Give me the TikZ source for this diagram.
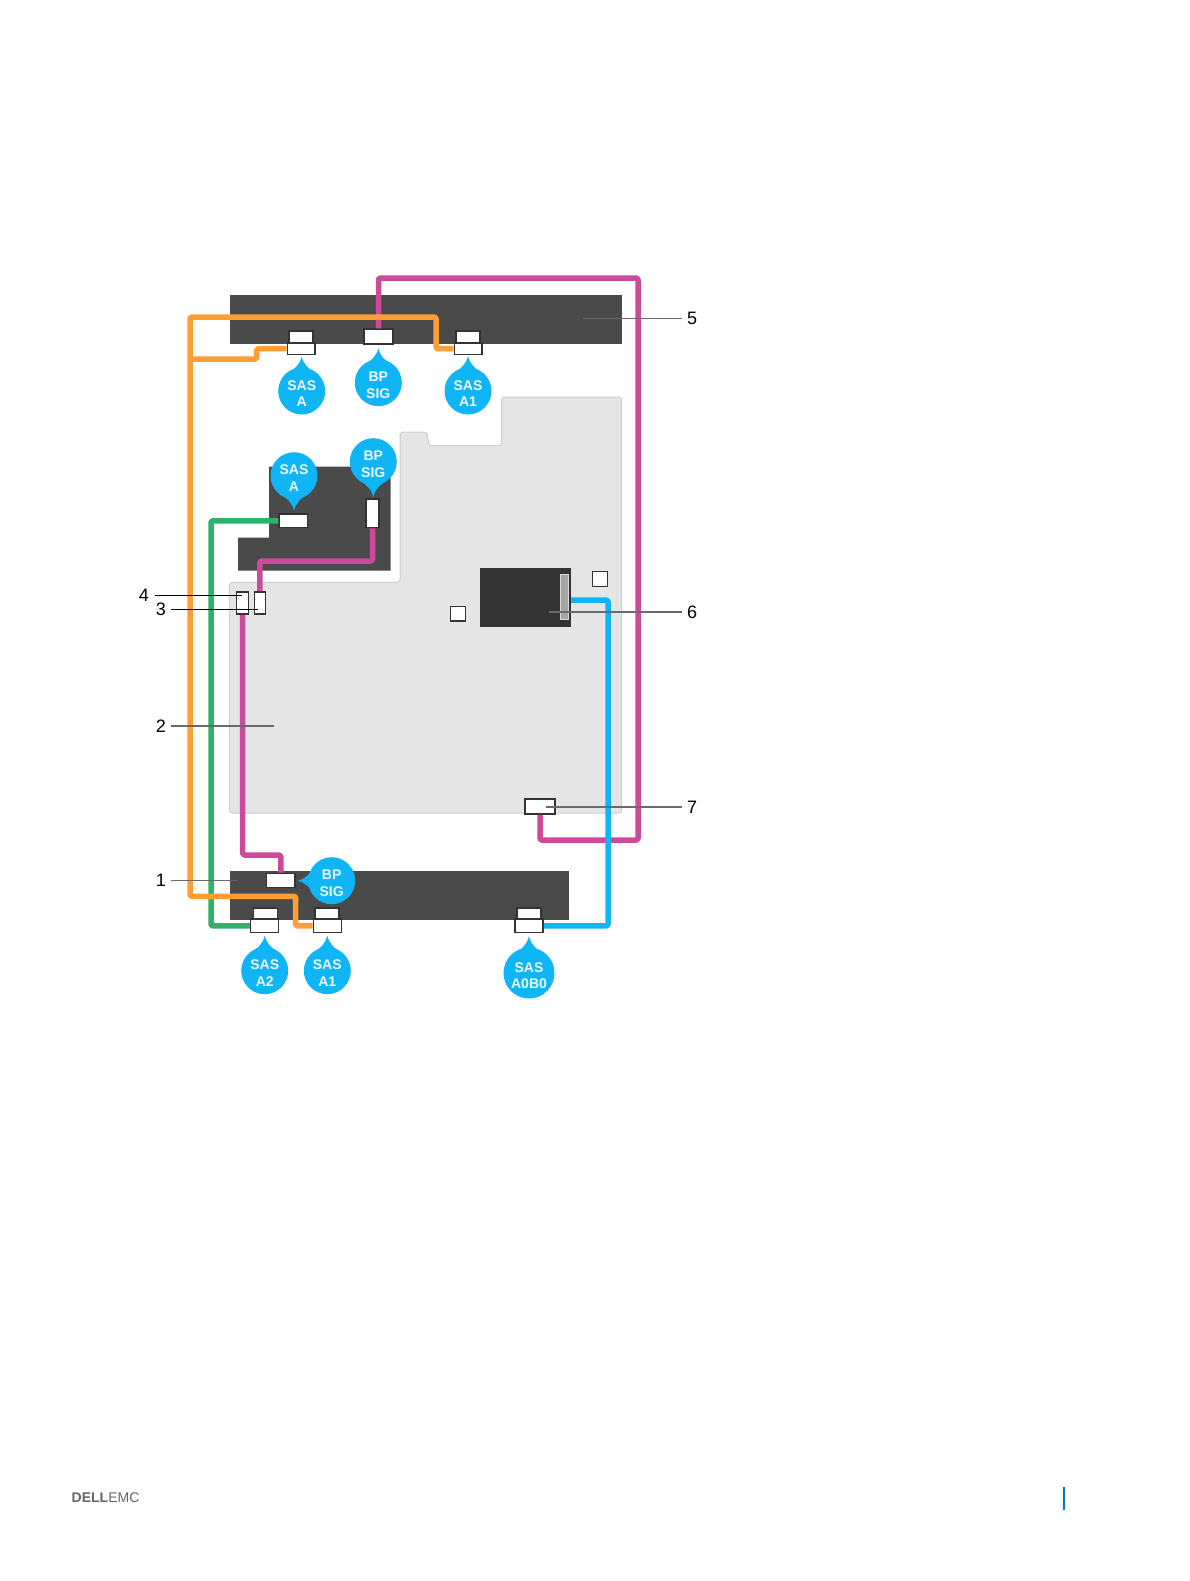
\documentclass[tikz,border=0pt]{standalone}
\usepackage{fontspec}
\setmainfont{Liberation Sans}
\definecolor{barc}{HTML}{4A4A4A}
\definecolor{plate}{HTML}{E5E5E5}
\definecolor{plateb}{HTML}{CFCFCF}
\definecolor{orangec}{HTML}{FF9E35}
\definecolor{pinkc}{HTML}{CB4A9A}
\definecolor{greenc}{HTML}{2DB36A}
\definecolor{bluec}{HTML}{10B5F5}
\definecolor{connb}{HTML}{333333}
\definecolor{leaderc}{HTML}{6A6A6A}
\definecolor{footbar}{HTML}{0076CE}
\tikzset{
  bar/.style={fill=barc,draw=none,anchor=north west,inner sep=0pt},
  conn/.style={draw=connb,fill=white,line width=1.5pt,inner sep=0pt},
  cable/.style={line width=5.5pt,rounded corners=1.5pt,line join=round},
  bubdisc/.style={circle,fill=bluec,inner sep=0pt},
  bubtext/.style={inner sep=0pt,align=center,text=white!92!bluec,font=\fontsize{14}{16.5}\selectfont\bfseries},
  leader/.style={draw=leaderc,line width=1.3pt},
  numlab/.style={font=\fontsize{18}{18}\selectfont,inner sep=0pt,inner xsep=5pt,text=black}
}
% [diameter] name, x, y, rotation of the tip, tip distance, text
\newcommand{\bubb}[7][47pt]{%
  \fill[bluec,shift={(#3,#4)},rotate=#5] (#6,0) .. controls (#6-8,2) and (#6-12,6) .. (16,17) -- (16,-17) .. controls (#6-12,-6) and (#6-8,-2) .. (#6,0) -- cycle;
  \node[bubdisc,minimum size=#1] (#2) at (#3,#4) {};
  \node[bubtext,yshift=-2.5pt] (#2t) at (#2) {#7};}
\begin{document}
\begin{tikzpicture}[x=1pt,y=-1pt]
\useasboundingbox[fill=white] (0,0) rectangle (1189,1581);
% bars
\node[bar,minimum width=392pt,minimum height=49pt] (bartop) at (229.3,294.3) {};
\node[bar,minimum width=339pt,minimum height=49pt] (barbot) at (229.3,870.5) {};
% board
\draw[fill=plate,draw=plateb,line width=1pt,rounded corners=3pt]
  (229.3,582.3) -- (400,582.3) -- (400,432) -- (427,432) -- (429,445.7) -- (501.7,445.7) -- (501.7,397) -- (621.7,397) -- (621.7,813) -- (229.3,813) -- cycle;
% riser pad
\fill[barc] (269,466.7) -- (390.7,466.7) -- (390.7,570.7) -- (238,570.7) -- (238,537.7) -- (269,537.7) -- cycle;
% card
\node[fill=black!80,minimum width=91pt,minimum height=59pt,inner sep=0pt] (card) at (525.5,597.2) {};
\node[fill=black!35,draw=black!15,line width=.6pt,minimum width=8.5pt,minimum height=45pt,inner sep=0pt] (slot) at (564.3,596.5) {};
\node[conn,minimum width=15pt,minimum height=15pt] (sqr) at (600.2,579.2) {};
\node[conn,minimum width=15pt,minimum height=14.5pt] (sql) at (458,613.9) {};
% connectors: upper and lower parts
\node[conn,minimum width=24pt,minimum height=12pt] (saUp) at (301,337) {};
\node[conn,minimum width=27.5pt,minimum height=11.5pt] (saLow) at (301.2,348.7) {};
\node[conn,minimum width=24pt,minimum height=12pt] (a1Up) at (468,337) {};
\node[conn,minimum width=27.5pt,minimum height=11.5pt] (a1Low) at (468,348.7) {};
\node[conn,minimum width=29pt,minimum height=15pt] (bpTop) at (378.5,336.5) {};
\node[conn,minimum width=28.5pt,minimum height=13.7pt] (saPad) at (293.4,520.8) {};
\node[conn,minimum width=13pt,minimum height=28.7pt] (bpPad) at (372.5,513.3) {};
\node[conn,minimum width=11pt,minimum height=22.3pt] (ctlb) at (259.8,603) {};
\node[conn,minimum width=12pt,minimum height=22.3pt] (ctla) at (242.7,603) {};
\node[conn,minimum width=30pt,minimum height=15pt] (ctlc) at (540,806.5) {};
\node[conn,minimum width=28.3pt,minimum height=14.4pt] (bpBot) at (280.8,880.5) {};
\node[conn,minimum width=24pt,minimum height=11pt] (a2Up) at (265.3,913.7) {};
\node[conn,minimum width=28pt,minimum height=13.5pt] (a2Low) at (264.7,925.9) {};
\node[conn,minimum width=24pt,minimum height=11pt] (b1Up) at (327.2,913.7) {};
\node[conn,minimum width=28pt,minimum height=13.5pt] (b1Low) at (327.3,925.9) {};
\node[conn,minimum width=24pt,minimum height=11pt] (abUp) at (529,913.7) {};
\node[conn,minimum width=28pt,minimum height=13.5pt] (abLow) at (529,925.9) {};
% bend points
\coordinate (pA) at (638,278);
\coordinate (pB) at (638,840);
\coordinate (pC) at (259.8,561);
\coordinate (pD) at (280.8,855);
\coordinate (gA) at (211,520.8);
\coordinate (gB) at (211,925.9);
\coordinate (bA) at (608,600);
\coordinate (oA) at (436,317);
\coordinate (oB) at (190,317);
\coordinate (oC) at (190,896.3);
\coordinate (oD) at (295.7,896.3);
\coordinate (oE) at (256.7,359);
\coordinate (oF) at (190,359);
% cables
\draw[cable,pinkc] (bpTop.north) |- (pA) -- (pB) -| (ctlc.south);
\draw[cable,pinkc] (bpPad.south) |- (pC) -- (ctlb.north);
\draw[cable,pinkc] (ctla.south) |- (pD) -- (bpBot.north);
\draw[cable,greenc] (saPad.west) -- (gA) -- (gB) -- (a2Low.west);
\draw[cable,bluec] (abLow.east) -| (bA) -- (bA -| card.east);
\draw[cable,orangec] (a1Low.west) -| (oA) -- (oB) -- (oC) -- (oD) |- (b1Low.west);
\draw[cable,orangec] (saLow.west) -| (oE) -- (oF);
% bubbles
\bubb{bSaTop}{301.7}{391}{90}{34.5}{SAS\\A}
\bubb{bBpTop}{378.3}{382.7}{90}{34.5}{BP\\SIG}
\bubb{bAaTop}{468}{391}{90}{35}{SAS\\A1}
\bubb{bSaPad}{294}{475.7}{-90}{35}{SAS\\A}
\bubb{bBpPad}{373.3}{461.7}{-90}{35.5}{BP\\SIG}
\bubb{bBpBot}{331.7}{880.7}{180}{34}{BP\\SIG}
\bubb{bAb}{264.7}{970.7}{90}{35}{SAS\\A2}
\bubb{bAa}{327.3}{970.7}{90}{35}{SAS\\A1}
\bubb[51pt]{bAB}{529}{973}{90}{37}{SAS\\A0B0}
% number labels with leaders
\coordinate (t1) at (236.7,880.7);
\coordinate (t2) at (274,726);
\coordinate (t3) at (257.7,609.7);
\coordinate (t4) at (241.7,595);
\coordinate (t5) at (583,318.7);
\coordinate (t6) at (549,612);
\coordinate (t7) at (546,807);
\node[numlab,anchor=east] (n1) at (171,880.7) {1};
\node[numlab,anchor=east] (n2) at (171,726) {2};
\node[numlab,anchor=east] (n3) at (171,609.7) {3};
\node[numlab,anchor=east,inner xsep=6pt] (n4) at (155,595) {4};
\node[numlab,anchor=west] (n5) at (682,318.7) {5};
\node[numlab,anchor=west] (n6) at (682,612) {6};
\node[numlab,anchor=west] (n7) at (682,807) {7};
\draw[leader] (n1) -- (t1);
\draw[leader] (n2) -- (t2);
\draw[leader,draw=black,line width=1pt] (n3) -- (t3);
\draw[leader,draw=black,line width=1pt] (n4) -- (t4);
\draw[leader] (n5) -- (t5);
\draw[leader] (n6) -- (t6);
\draw[leader] (n7) -- (t7);
% footer
\node[anchor=west,inner sep=0pt,font=\fontsize{14}{14}\selectfont,text=black!60] (logo) at (71.5,1497.5) {\textbf{DELL}EMC};
\fill[footbar] (1063.2,1487) rectangle (1065.2,1510);
\end{tikzpicture}
\end{document}
